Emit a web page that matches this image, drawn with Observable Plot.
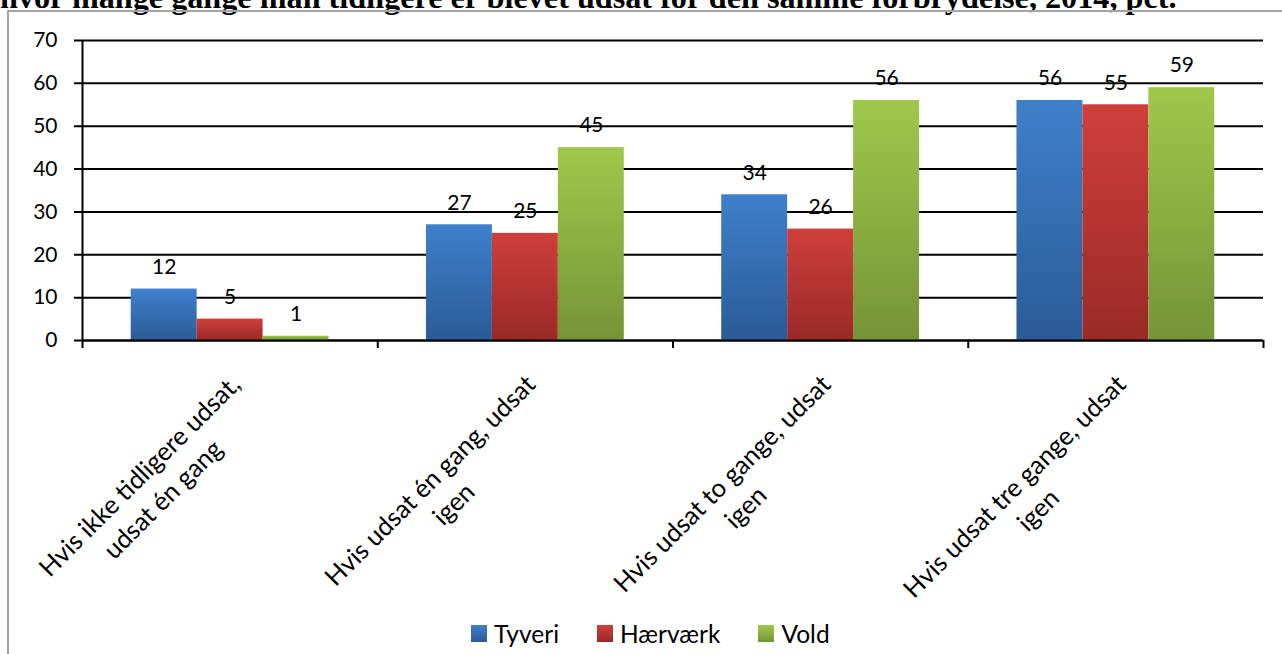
<!DOCTYPE html>
<html><head><meta charset="utf-8">
<script src="https://cdn.jsdelivr.net/npm/d3@7"></script>
<script src="https://cdn.jsdelivr.net/npm/@observablehq/plot@0.6"></script>
<style>
html,body{margin:0;padding:0;background:#fff;}
body{width:1282px;height:654px;overflow:hidden;position:relative;}
#title{position:absolute;left:0;white-space:nowrap;font-family:"Liberation Serif","Times New Roman",serif;font-weight:bold;line-height:1;color:#000;}
#box{position:absolute;left:7px;top:10px;width:1400px;height:800px;border-left:2px solid #a3a3a3;border-top:2px solid #a3a3a3;}
#chart{position:absolute;left:0;top:0;}
#legend{position:absolute;left:471px;top:619px;display:flex;align-items:center;font-family:Lato,sans-serif;font-size:24.5px;color:#000;}
#legend .item{display:flex;align-items:center;margin-right:38px;}
#legend .sw{width:16px;height:17px;margin-right:7px;}
</style></head>
<body>
<div id="title">hvor mange gange man tidligere er blevet udsat for den samme forbrydelse, 2014, pct.</div>
<div id="box"></div>
<div id="chart"></div>
<div id="legend"></div>
<script>
const categories = [
  "Hvis ikke tidligere udsat,\nudsat én gang",
  "Hvis udsat én gang, udsat\nigen",
  "Hvis udsat to gange, udsat\nigen",
  "Hvis udsat tre gange, udsat\nigen"
];
const series = ["Tyveri", "Hærværk", "Vold"];
const tyveri = [12, 27, 34, 56];
const haervaerk = [5, 25, 26, 55];
const vold = [1, 45, 56, 59];
const yTicks = [0, 10, 20, 30, 40, 50, 60, 70];
const colorsTop = ["#3f80cc", "#cf3f3b", "#9fc84b"];
const colorsBottom = ["#2b5b97", "#9a2a27", "#759437"];

// title fitting
const title = document.getElementById("title");
title.style.fontSize = "25px";
const tw = title.getBoundingClientRect().width;
const fs = 25 * 1177 / tw;
title.style.fontSize = fs + "px";
title.style.top = (7.5 - 0.8375 * fs) + "px";

const values = [tyveri, haervaerk, vold];
const groupFrac = 0.67;
const pad = (1 - groupFrac) / 2;
const bw = groupFrac / series.length;
const rows = [];
categories.forEach((c, i) => {
  series.forEach((s, j) => {
    const x1 = i + pad + j * bw;
    rows.push({category: c, series: s, value: values[j][i], x1, x2: x1 + bw});
  });
});
const catRows = categories.map((label, i) => ({label, i}));

const chart = Plot.plot({
  width: 1282,
  height: 612,
  marginLeft: 82,
  marginRight: 19,
  marginTop: 40,
  marginBottom: 272,
  style: {background: "none", fontFamily: "Lato, sans-serif", fontSize: "21px", color: "#000", overflow: "visible"},
  x: {domain: [0, categories.length], axis: null},
  y: {domain: [0, 70], ticks: yTicks, tickSize: 0, tickPadding: 25, label: null, tickFormat: d => String(d)},
  color: {domain: series, range: series.map((s, i) => `url(#grad${i})`)},
  marks: [
    Plot.ruleY(yTicks, {stroke: "#000", strokeWidth: 2, insetLeft: -8}),
    Plot.ruleX([0], {stroke: "#000", strokeWidth: 2}),
    Plot.ruleX(d3.range(categories.length + 1), {y1: 0, y2: 0, insetBottom: -8, stroke: "#000", strokeWidth: 2}),
    Plot.rectY(rows, {x1: "x1", x2: "x2", y1: 0, y2: "value", fill: "series"}),
    Plot.ruleY([0], {stroke: "#000", strokeWidth: 2}),
    Plot.text(rows, {x: d => (d.x1 + d.x2) / 2, y: "value", text: d => String(d.value), dy: -22, fill: "#000", fontSize: 21}),
    Plot.text(catRows, {x: d => d.i + 0.5, frameAnchor: "bottom", text: "label", rotate: -45, textAnchor: "middle", lineAnchor: "top", lineHeight: 1.3, fill: "#000", fontSize: 25.5})
  ]
});

// gradients
const NS = "http://www.w3.org/2000/svg";
const defs = document.createElementNS(NS, "defs");
series.forEach((s, i) => {
  const g = document.createElementNS(NS, "linearGradient");
  g.setAttribute("id", "grad" + i);
  g.setAttribute("x1", "0"); g.setAttribute("y1", "0");
  g.setAttribute("x2", "0"); g.setAttribute("y2", "1");
  [[0, colorsTop[i]], [1, colorsBottom[i]]].forEach(([o, c]) => {
    const st = document.createElementNS(NS, "stop");
    st.setAttribute("offset", o);
    st.setAttribute("stop-color", c);
    g.appendChild(st);
  });
  defs.appendChild(g);
});
chart.insertBefore(defs, chart.firstChild);
document.getElementById("chart").appendChild(chart);

// centre the lines of each rotated label; the block's top-right end sits just below the category centre
const Sx = -5, Sy = 29; // screen offset of the block's anchor from the axis point
[...chart.querySelectorAll("text")]
  .filter(t => (t.getAttribute("transform") || "").includes("rotate(-45)"))
  .forEach(t => {
    const spans = [...t.querySelectorAll("tspan")];
    const items = spans.length ? spans : [t];
    const w = Math.max(...items.map(s => s.getComputedTextLength()));
    items.forEach(s => s.setAttribute("x", -w / 2));
    t.setAttribute("transform", `translate(${Sx},${Sy}) ` + t.getAttribute("transform"));
  });

// legend
const legend = document.getElementById("legend");
series.forEach((s, i) => {
  const item = document.createElement("div");
  item.className = "item";
  const sw = document.createElement("div");
  sw.className = "sw";
  sw.style.background = `linear-gradient(${colorsTop[i]}, ${colorsBottom[i]})`;
  const lab = document.createElement("span");
  lab.textContent = s;
  item.appendChild(sw); item.appendChild(lab);
  legend.appendChild(item);
});
</script>
</body></html>
